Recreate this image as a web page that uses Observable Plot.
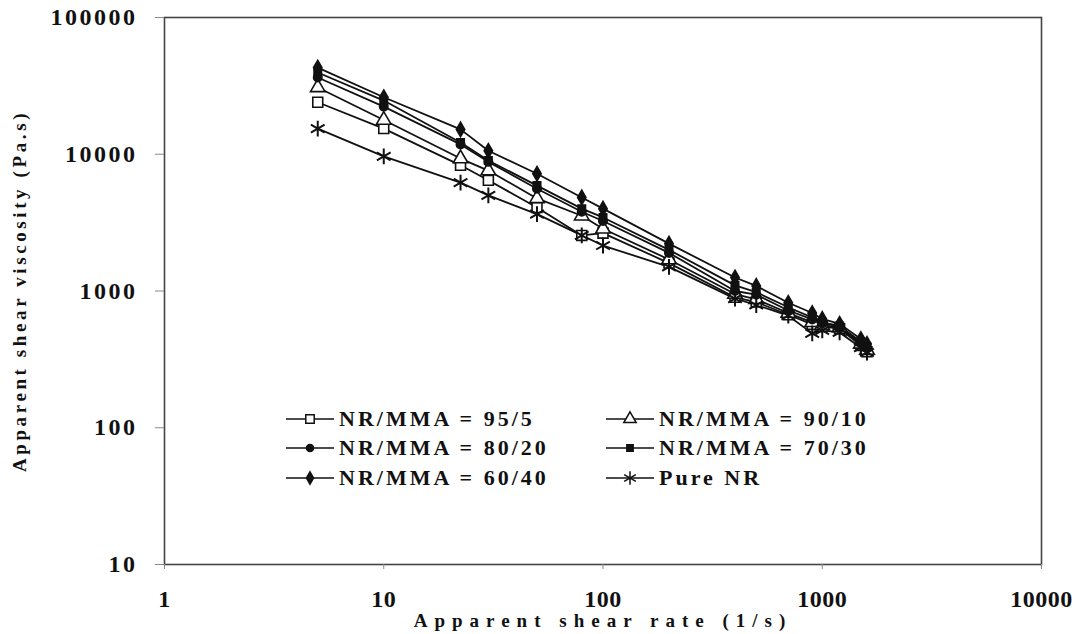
<!DOCTYPE html>
<html>
<head>
<meta charset="utf-8">
<script src="https://cdn.jsdelivr.net/npm/d3@7"></script>
<script src="https://cdn.jsdelivr.net/npm/@observablehq/plot@0.6"></script>
<style>
  html, body { margin: 0; padding: 0; background: #fff; }
  #wrap { position: relative; width: 1075px; height: 634px; }
  #wrap svg text { font-family: "Liberation Serif", "DejaVu Serif", serif; font-weight: bold; fill: #111; }
  g[aria-label="y-axis tick label"] text { letter-spacing: 2.5px; }
  g[aria-label="x-axis tick label"] text { letter-spacing: 0.5px; }
  g[aria-label="x-axis label"] text { letter-spacing: 7px; }
  g[aria-label="y-axis label"] text { letter-spacing: 3.6px; }
  #legend { position: absolute; left: 285px; top: 407px; display: grid; grid-template-columns: 320px 320px; row-gap: 6px; }
  .item { display: flex; align-items: center; height: 23.5px; }
  .item span { font-family: "Liberation Serif", serif; font-weight: bold; font-size: 22px; letter-spacing: 3px; color: #111; margin-left: 4px; white-space: nowrap; }
</style>
</head>
<body>
<div id="wrap"></div>
<script>
// Data
const shearRate = [5, 10, 22.4, 30, 50, 80, 100, 200, 400, 500, 700, 900, 1000, 1200, 1500, 1600];
const nr95_5  = [24000, 15400, 8300, 6450, 4080, 2550, 2650, 1600, 900, 830, 670, 570, 550, 530, 400, 360];
const nr90_10 = [30800, 17800, 9300, 7600, 4750, 3550, 2850, 1700, 950, 870, 690, 590, 560, 540, 410, 370];
const nr80_20 = [36400, 22300, 11800, 8800, 5600, 3800, 3250, 1900, 1000, 940, 720, 620, 580, 550, 420, 380];
const nr70_30 = [39600, 24700, 12200, 9000, 5900, 4000, 3450, 2000, 1100, 980, 760, 640, 590, 555, 425, 390];
const nr60_40 = [43000, 26100, 15200, 10600, 7200, 4830, 4000, 2220, 1255, 1090, 820, 690, 625, 575, 445, 410];
const pureNR  = [15400, 9650, 6200, 5000, 3650, 2550, 2150, 1500, 880, 790, 660, 490, 515, 498, 385, 355];

const seriesNames = ["NR/MMA = 95/5", "NR/MMA = 90/10", "NR/MMA = 80/20", "NR/MMA = 70/30", "NR/MMA = 60/40", "Pure NR"];
const seriesValues = [nr95_5, nr90_10, nr80_20, nr70_30, nr60_40, pureNR];
const seriesSymbols = ["square", "triangle", "circle", "square", "diamond", "asterisk"];
const seriesFills = ["white", "white", "#111", "#111", "#111", "none"];
const seriesR = [5.6, 5.4, 4.2, 4.2, 4.4, 7.5];

const xTicks = [1, 10, 100, 1000, 10000];
const yTicks = [10, 100, 1000, 10000, 100000];

const rows = [];
seriesNames.forEach((name, i) => {
  seriesValues[i].forEach((v, j) => rows.push({series: name, idx: i, rate: shearRate[j], visc: v}));
});

const marks = [
  Plot.frame({stroke: "#444", strokeWidth: 1.6})
];
seriesNames.forEach((name, i) => {
  const d = rows.filter(r => r.idx === i);
  marks.push(Plot.line(d, {x: "rate", y: "visc", stroke: "#111", strokeWidth: 1.8}));
});
seriesNames.forEach((name, i) => {
  const d = rows.filter(r => r.idx === i);
  marks.push(Plot.dot(d, {x: "rate", y: "visc", symbol: seriesSymbols[i], r: seriesR[i],
    fill: seriesFills[i], stroke: "#111", strokeWidth: i === 5 ? 2 : 1.6}));
});
marks.push(
  Plot.axisX({ticks: xTicks, tickFormat: d => String(d), tickSize: 5, tickPadding: 20, fontSize: 24,
    label: "Apparent shear rate (1/s)", labelArrow: "none", labelAnchor: "center", labelOffset: 62, stroke: "#888"}),
  Plot.axisY({ticks: yTicks, tickFormat: d => String(d), tickSize: 9, tickPadding: 18, fontSize: 24,
    label: "Apparent shear viscosity (Pa.s)", labelArrow: "none", labelAnchor: "center", labelOffset: 152, stroke: "#888"})
);

const chart = Plot.plot({
  width: 1075,
  height: 634,
  marginLeft: 164,
  marginRight: 34,
  marginTop: 17,
  marginBottom: 70,
  style: {fontFamily: "Liberation Serif", fontWeight: "bold", background: "white", overflow: "visible"},
  x: {type: "log", domain: [1, 10000]},
  y: {type: "log", domain: [10, 100000]},
  marks
});

const wrap = document.getElementById("wrap");
wrap.appendChild(chart);

// axis label font sizes, strip any arrows
chart.querySelectorAll('g[aria-label="x-axis label"] text, g[aria-label="y-axis label"] text').forEach(t => {
  t.setAttribute("font-size", "19");
  t.textContent = t.textContent.replace(/[\u2190-\u2193]/g, "").trim();
});

// Legend
const legend = document.createElement("div");
legend.id = "legend";
const d3types = {square: d3.symbolSquare, triangle: d3.symbolTriangle, circle: d3.symbolCircle, diamond: d3.symbolDiamond, asterisk: d3.symbolAsterisk};
seriesNames.forEach((name, i) => {
  const item = document.createElement("div");
  item.className = "item";
  const svg = d3.create("svg").attr("width", 50).attr("height", 20);
  svg.append("line").attr("x1", 1).attr("x2", 49).attr("y1", 10).attr("y2", 10).attr("stroke", "#111").attr("stroke-width", 1.6);
  const rr = seriesR[i] * 0.85;
  svg.append("path")
    .attr("transform", "translate(25,10)")
    .attr("d", d3.symbol(d3types[seriesSymbols[i]], Math.PI * rr * rr)())
    .attr("fill", seriesFills[i]).attr("stroke", "#111").attr("stroke-width", 1.5);
  item.appendChild(svg.node());
  const span = document.createElement("span");
  span.textContent = name;
  item.appendChild(span);
  legend.appendChild(item);
});
wrap.appendChild(legend);
</script>
</body>
</html>
